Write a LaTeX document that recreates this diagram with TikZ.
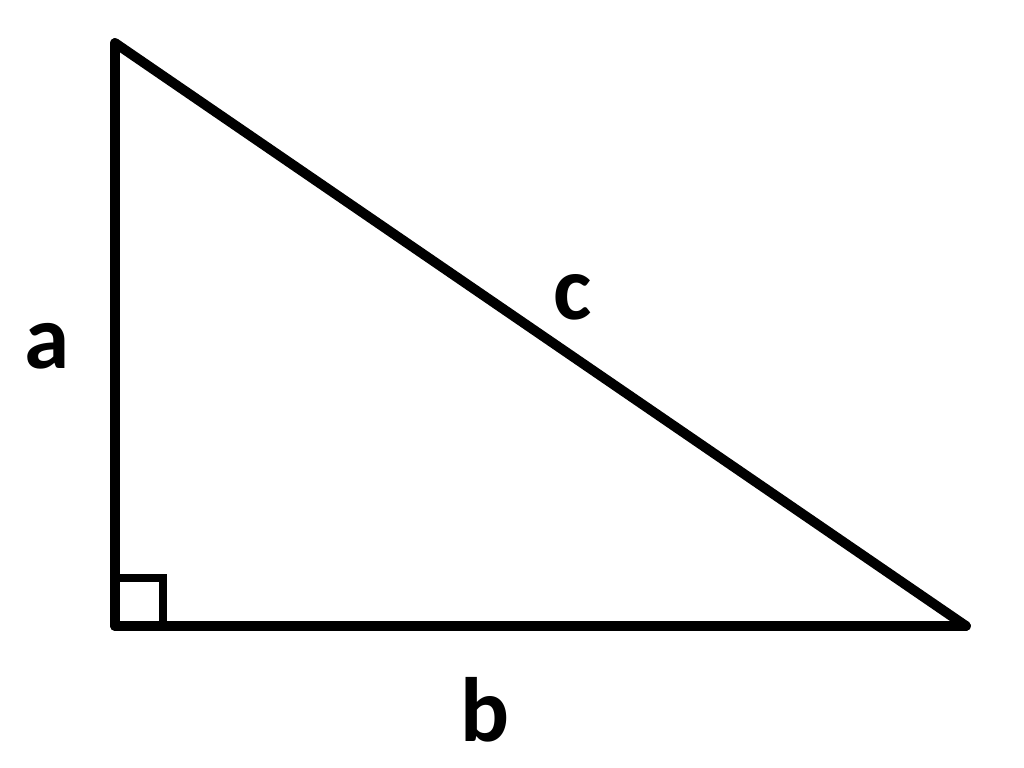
\documentclass[tikz,border=0pt]{standalone}
\usepackage{fontspec}
\setmainfont{Carlito}
\tikzset{side/.style={line width=2.8pt,line join=round,line cap=round},
	lbl/.style={inner sep=0pt,font=\fontsize{26}{31}\selectfont\bfseries}}
\begin{document}
\begin{tikzpicture}
		\useasboundingbox(0,0)rectangle(10.24,7.67);
		\coordinate(A)at(1.15,7.24);
		\coordinate(C)at(1.15,1.41);
		\coordinate(B)at(9.66,1.41);
		\draw[side](A)--(C)node[lbl,midway,left=0.40cm,yshift=-0.12cm](la){a};
		\draw[side](C)--(B)node[lbl,midway,below=0.46cm,xshift=-0.55cm](lb){b};
		\draw[side](B)--(A)node[lbl,midway,xshift=0.32cm,yshift=0.37cm](lc){c};
		\draw[line width=2.4pt](C)++(0,0.48)-|++(0.48,-0.48);
	\end{tikzpicture}
\end{document}
